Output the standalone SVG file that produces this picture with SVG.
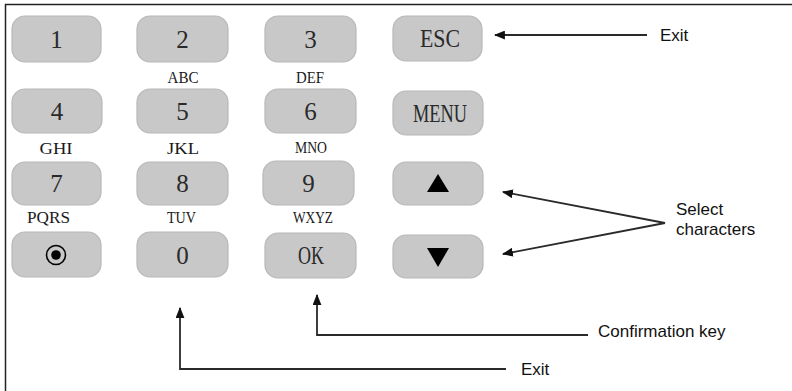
<svg xmlns="http://www.w3.org/2000/svg" width="792" height="391" viewBox="0 0 792 391">
<defs>
<style>
.key{fill:#c8c8c8;stroke:#b8b8b8;stroke-width:1.2}
.kt{font-family:"Liberation Serif",serif;font-size:25px;fill:#2a2a2a;text-anchor:middle}
.lb{font-family:"Liberation Serif",serif;font-size:17px;fill:#1a1a1a;text-anchor:middle}
.note{font-family:"Liberation Sans",Arial,sans-serif;font-size:17px;fill:#111}
.conn{fill:none;stroke:#2a2a2a;stroke-width:1.8}
</style>
<marker id="ah" viewBox="0 0 10 8" markerWidth="11" markerHeight="9" refX="9" refY="4" orient="auto" markerUnits="userSpaceOnUse">
<path d="M0,0 L10,4 L0,8 z" fill="#111"/>
</marker>
</defs>
<rect width="792" height="391" fill="#fff"/>
<path d="M5.5,391 L5.5,4.5 L792,4.5" fill="none" stroke="#222" stroke-width="1.5"/>

<g id="key-1"><rect class="key" x="12" y="16" width="89" height="46" rx="13"/><text class="kt" x="56.5" y="48">1</text></g>
<g id="key-2"><rect class="key" x="137" y="16" width="91" height="46" rx="13"/><text class="kt" x="182.5" y="48">2</text><text class="lb" x="183" y="83" textLength="31" lengthAdjust="spacingAndGlyphs">ABC</text></g>
<g id="key-3"><rect class="key" x="265" y="16" width="91" height="46" rx="13"/><text class="kt" x="310.5" y="48">3</text><text class="lb" x="310" y="83" textLength="28" lengthAdjust="spacingAndGlyphs">DEF</text></g>
<g id="key-esc"><rect class="key" x="393" y="16" width="89" height="45" rx="13"/><text class="kt" x="440" y="47" textLength="40" lengthAdjust="spacingAndGlyphs">ESC</text></g>

<g id="key-4"><rect class="key" x="12" y="89" width="90" height="44" rx="13"/><text class="kt" x="57" y="120">4</text><text class="lb" x="56" y="154" textLength="33" lengthAdjust="spacingAndGlyphs">GHI</text></g>
<g id="key-5"><rect class="key" x="137" y="89" width="91" height="44" rx="13"/><text class="kt" x="182.5" y="120">5</text><text class="lb" x="183" y="154" textLength="32" lengthAdjust="spacingAndGlyphs">JKL</text></g>
<g id="key-6"><rect class="key" x="265" y="89" width="91" height="44" rx="13"/><text class="kt" x="310.5" y="120">6</text><text class="lb" x="311" y="153" textLength="32" lengthAdjust="spacingAndGlyphs">MNO</text></g>
<g id="key-menu"><rect class="key" x="393" y="91" width="90" height="44" rx="13"/><text class="kt" x="440" y="122" textLength="54" lengthAdjust="spacingAndGlyphs">MENU</text></g>

<g id="key-7"><rect class="key" x="12" y="162" width="89" height="43" rx="13"/><text class="kt" x="56.5" y="192">7</text><text class="lb" x="48.5" y="223" textLength="43" lengthAdjust="spacingAndGlyphs">PQRS</text></g>
<g id="key-8"><rect class="key" x="137" y="162" width="91" height="43" rx="13"/><text class="kt" x="182.5" y="192">8</text><text class="lb" x="181.5" y="223" textLength="29" lengthAdjust="spacingAndGlyphs">TUV</text></g>
<g id="key-9"><rect class="key" x="263" y="161" width="91" height="44" rx="13"/><text class="kt" x="308.5" y="192">9</text><text class="lb" x="313" y="223" textLength="40" lengthAdjust="spacingAndGlyphs">WXYZ</text></g>
<g id="key-up"><rect class="key" x="393" y="162" width="90" height="43" rx="13"/><path d="M438,174 L449,192 L427,192 z" fill="#000"/></g>

<g id="key-dot"><rect class="key" x="12" y="232" width="89" height="45" rx="13"/><circle cx="56" cy="255" r="9.5" fill="none" stroke="#000" stroke-width="1.6"/><circle cx="56" cy="255" r="4.8" fill="#000"/></g>
<g id="key-0"><rect class="key" x="137" y="232" width="91" height="45" rx="13"/><text class="kt" x="182.5" y="264">0</text></g>
<g id="key-ok"><rect class="key" x="265" y="233" width="91" height="45" rx="13"/><text class="kt" x="311" y="264" textLength="26" lengthAdjust="spacingAndGlyphs">OK</text></g>
<g id="key-down"><rect class="key" x="393" y="235" width="90" height="43" rx="13"/><path d="M427,248 L449,248 L438,267 z" fill="#000"/></g>

<g id="connectors">
<path class="conn" d="M647,35 L495,35" marker-end="url(#ah)"/>
<path class="conn" d="M665,223 L503,192" marker-end="url(#ah)"/>
<path class="conn" d="M665,223 L503,254" marker-end="url(#ah)"/>
<path class="conn" d="M588,335 L317,335 L317,295" marker-end="url(#ah)"/>
<path class="conn" d="M506,369 L180,369 L180,308" marker-end="url(#ah)"/>
</g>

<g id="notes">
<text class="note" x="660" y="41">Exit</text>
<text class="note" x="676" y="215">Select</text>
<text class="note" x="676" y="235">characters</text>
<text class="note" x="598" y="337">Confirmation key</text>
<text class="note" x="521" y="375">Exit</text>
</g>
</svg>
